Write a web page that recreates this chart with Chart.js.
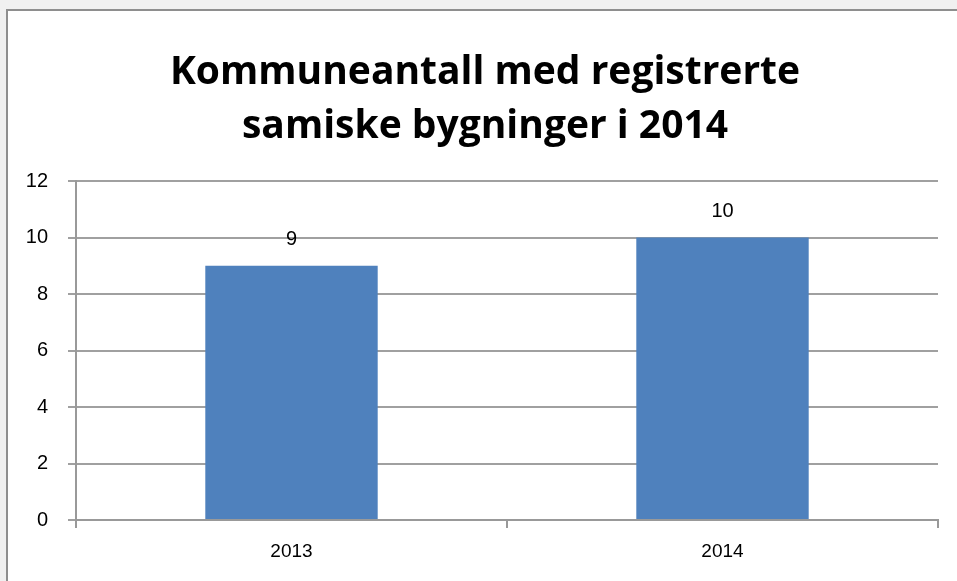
<!DOCTYPE html>
<html lang="no">
<head>
<meta charset="UTF-8">
<title>Kommuneantall med registrerte samiske bygninger i 2014</title>
<script src="https://cdn.jsdelivr.net/npm/chart.js"></script>
<style>
    body { margin: 0; background: #f0f0f0; }
    .wrap { position: relative; width: 957px; height: 581px; overflow: hidden; }
    .frame { position: absolute; left: 6px; top: 9px; width: 970px; height: 600px; background: #fff; border: 2px solid #8e8e8e; }
    canvas { position: absolute; left: 0; top: 0; }
</style>
</head>
<body>
<div class="wrap">
    <div class="frame"></div>
    <canvas id="chart" width="957" height="581"></canvas>
</div>
<script>
const years = ['2013', '2014'];
const counts = [9, 10];
const titleLines = ['Kommuneantall med registrerte', 'samiske bygninger i 2014'];

// title centred over the whole frame, not only the plot
const chartTitle = {
    id: 'chartTitle',
    afterDraw(chart) {
        const ctx = chart.ctx;
        ctx.save();
        ctx.font = 'bold 39px "Open Sans", sans-serif';
        ctx.fillStyle = '#000';
        ctx.textAlign = 'center';
        ctx.textBaseline = 'middle';
        titleLines.forEach((t, i) => ctx.fillText(t, 485, 73 + i * 54));
        ctx.restore();
    }
};

const barLabels = {
    id: 'barLabels',
    afterDatasetsDraw(chart) {
        const ctx = chart.ctx;
        ctx.save();
        ctx.font = '20px "Liberation Sans", Arial, sans-serif';
        ctx.fillStyle = '#000';
        ctx.textAlign = 'center';
        ctx.textBaseline = 'middle';
        chart.getDatasetMeta(0).data.forEach((bar, i) => {
            ctx.fillText(counts[i], bar.x, bar.y - 26);
        });
        ctx.restore();
    }
};

new Chart(document.getElementById('chart'), {
    type: 'bar',
    data: {
        labels: years,
        datasets: [{ data: counts, backgroundColor: '#4f81bd', barPercentage: 0.4, categoryPercentage: 1 }]
    },
    options: {
        responsive: false,
        animation: false,
        layout: { padding: { left: 0, right: 19, top: 181, bottom: 0 } },
        plugins: {
            legend: { display: false },
            tooltip: { enabled: false },
            title: { display: false }
        },
        scales: {
            x: {
                offset: true,
                grid: { offset: true, drawOnChartArea: false, drawTicks: true, tickLength: 8, color: '#999', lineWidth: 2 },
                border: { color: '#999', width: 2 },
                ticks: { color: '#000', padding: 12, font: { family: '"Liberation Sans", Arial, sans-serif', size: 19 } },
                afterFit(s) { s.height = 61; }
            },
            y: {
                min: 0,
                max: 12,
                ticks: { stepSize: 2, color: '#000', padding: 20, font: { family: '"Liberation Sans", Arial, sans-serif', size: 20 } },
                grid: { color: '#a0a0a0', lineWidth: 2, tickLength: 8 },
                border: { color: '#999', width: 2 },
                afterFit(s) { s.width = 76; }
            }
        }
    },
    plugins: [chartTitle, barLabels]
});
</script>
</body>
</html>
